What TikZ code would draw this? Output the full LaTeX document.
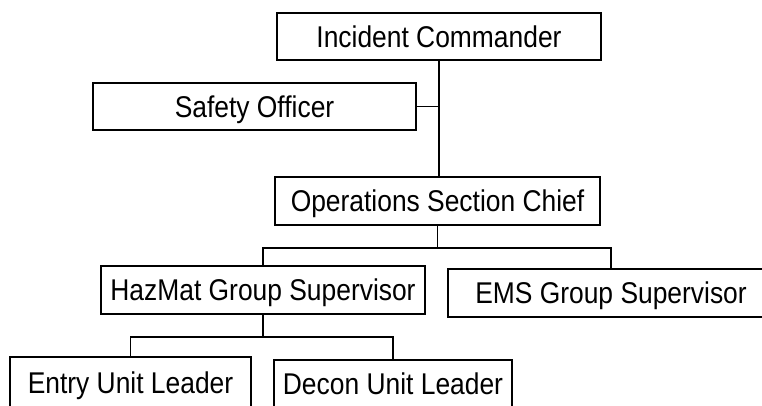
\documentclass[tikz,border=0pt]{standalone}
\usepackage{fontspec}
\setmainfont{Liberation Sans}[FakeStretch=0.88]
\tikzset{
  box/.style={draw, line width=1.4pt, inner sep=0pt, font=\fontsize{30}{34}\selectfont,
    text height=21.5pt, text depth=0pt, anchor=center},
  link/.style={line width=1.4pt}
}
\begin{document}
\begin{tikzpicture}[x=1pt, y=-1pt]
\clip (0,0) rectangle (762,406);
\fill[white] (0,0) rectangle (762,406);
\node[box, minimum width=324pt, minimum height=47pt] (ic) at (439,36.5) {Incident Commander};
\node[box, minimum width=323pt, minimum height=47pt] (so) at (254.5,106.5) {Safety Officer};
\node[box, minimum width=325pt, minimum height=48pt] (ops) at (437.5,201) {Operations Section Chief};
\node[box, minimum width=324pt, minimum height=48pt] (haz) at (263,290) {HazMat Group Supervisor};
\node[box, minimum width=326pt, minimum height=48pt] (ems) at (611,293) {EMS Group Supervisor};
\node[box, minimum width=241pt, minimum height=52pt] (entry) at (130.5,383) {Entry Unit Leader};
\node[box, minimum width=238pt, minimum height=48pt] (decon) at (393,384) {Decon Unit Leader};
\coordinate (bus1) at (437,248);
\coordinate (bus2) at (263,337);
\draw[link] (ic.south) -- (ic.south |- ops.north);
\draw[link] (so.east) -- (so.east -| ic.south);
\draw[link] (ops.south) -- (ops.south |- bus1);
\draw[link] (haz.north) -- (haz.north |- bus1) -- (ems.north |- bus1) -- (ems.north);
\draw[link] (haz.south) -- (haz.south |- bus2);
\draw[link] (entry.north) -- (entry.north |- bus2) -- (decon.north |- bus2) -- (decon.north);
\end{tikzpicture}
\end{document}
